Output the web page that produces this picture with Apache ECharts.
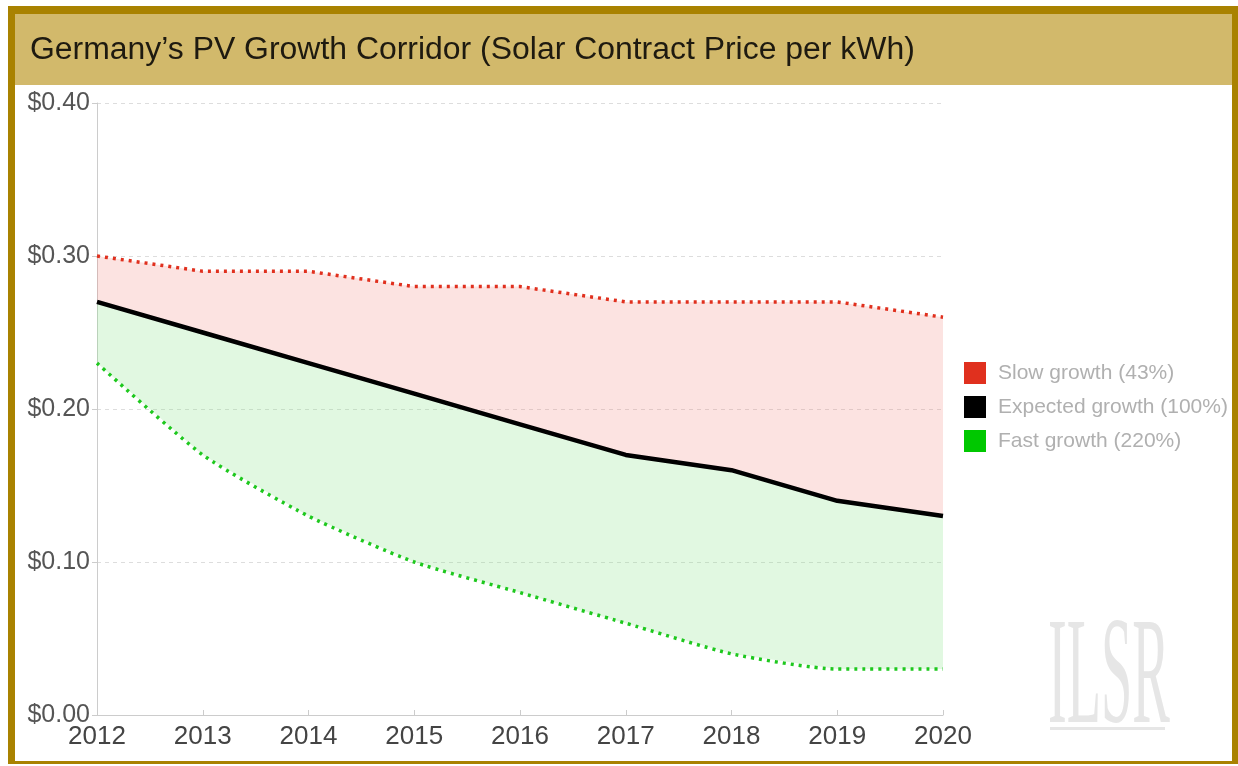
<!DOCTYPE html>
<html>
<head>
<meta charset="utf-8">
<script src="https://cdn.jsdelivr.net/npm/echarts@6/dist/echarts.min.js"></script>
<style>
  html, body { margin: 0; padding: 0; background: #fff; }
  #chart { width: 1238px; height: 766px; }
</style>
</head>
<body>
<div id="chart"></div>
<script>
// data
const years = ['2012', '2013', '2014', '2015', '2016', '2017', '2018', '2019', '2020']
const slowGrowth = [0.30, 0.29, 0.29, 0.28, 0.28, 0.27, 0.27, 0.27, 0.26]
const expectedGrowth = [0.27, 0.25, 0.23, 0.21, 0.19, 0.17, 0.16, 0.14, 0.13]
const fastGrowth = [0.23, 0.17, 0.13, 0.10, 0.08, 0.06, 0.04, 0.03, 0.03]
const yTicks = [0, 0.1, 0.2, 0.3, 0.4]

const gold = '#a98200'
const red = '#e0301e'
const green = '#1ec81e'

// bands between the lines (stacked on top of the fast curve)
const greenBand = expectedGrowth.map((v, i) => +(v - fastGrowth[i]).toFixed(4))
const redBand = slowGrowth.map((v, i) => +(v - expectedGrowth[i]).toFixed(4))

const chart = echarts.init(document.getElementById('chart'))

chart.setOption({
  animation: false,
  textStyle: { fontFamily: 'Liberation Sans, Arial, sans-serif' },
  graphic: [
    { type: 'rect', shape: { x: 15, y: 14, width: 1217, height: 71 }, style: { fill: '#d2b96b' }, z: 0 },
    { type: 'rect', shape: { x: 8, y: 6, width: 1230, height: 8 }, style: { fill: gold }, z: 1 },
    { type: 'rect', shape: { x: 8, y: 6, width: 7, height: 758 }, style: { fill: gold }, z: 1 },
    { type: 'rect', shape: { x: 1232, y: 6, width: 6, height: 758 }, style: { fill: gold }, z: 1 },
    { type: 'rect', shape: { x: 8, y: 761, width: 1230, height: 3 }, style: { fill: gold }, z: 1 },
    {
      type: 'text', x: 30, y: 35, scaleX: 1.03, z: 2,
      style: {
        text: 'Germany\u2019s PV Growth Corridor (Solar Contract Price per kWh)',
        fill: '#1e1a10', font: '31px "Liberation Sans", Arial, sans-serif'
      }
    },
    {
      type: 'text', x: 1048, y: 606, scaleX: 0.37, z: 0,
      style: {
        text: 'ILSR', fill: '#e6e6e6',
        font: '152px "Liberation Serif", "DejaVu Serif", serif'
      }
    },
    { type: 'rect', shape: { x: 1050, y: 727, width: 115, height: 3 }, style: { fill: '#e6e6e6' }, z: 0 }
  ],
  legend: {
    orient: 'vertical',
    left: 964,
    top: 362,
    padding: 0,
    icon: 'rect',
    itemWidth: 22,
    itemHeight: 22,
    itemGap: 12,
    data: ['Slow growth (43%)', 'Expected growth (100%)', 'Fast growth (220%)'],
    textStyle: { color: '#b0b0b0', fontSize: 21, padding: [0, 0, 0, 7] }
  },
  grid: { left: 97, right: 295, top: 103, bottom: 51 },
  xAxis: {
    type: 'category',
    data: years,
    boundaryGap: false,
    axisLine: { lineStyle: { color: '#cccccc' } },
    axisTick: { inside: true, length: 5, lineStyle: { color: '#cccccc' } },
    axisLabel: { color: '#444', fontSize: 26, margin: 9 }
  },
  yAxis: {
    type: 'value',
    min: yTicks[0],
    max: yTicks[yTicks.length - 1],
    interval: 0.1,
    axisLine: { show: true, lineStyle: { color: '#cccccc' } },
    axisTick: { show: true, length: 5, lineStyle: { color: '#cccccc' } },
    axisLabel: { color: '#555', fontSize: 25, margin: 7, formatter: v => '$' + v.toFixed(2) },
    splitLine: { lineStyle: { color: '#dddddd', type: [4, 4] } }
  },
  series: [
    {
      name: 'base', type: 'line', stack: 'band', data: fastGrowth,
      symbol: 'none', lineStyle: { opacity: 0 }, silent: true
    },
    {
      name: 'greenBand', type: 'line', stack: 'band', data: greenBand,
      symbol: 'none', lineStyle: { opacity: 0 }, silent: true,
      areaStyle: { color: 'rgba(130, 225, 130, 0.34)' }
    },
    {
      name: 'redBand', type: 'line', stack: 'band', data: redBand,
      symbol: 'none', lineStyle: { opacity: 0 }, silent: true,
      areaStyle: { color: 'rgba(240, 130, 120, 0.32)' }
    },
    {
      name: 'Slow growth (43%)', type: 'line', data: slowGrowth, symbol: 'none',
      itemStyle: { color: red },
      lineStyle: { color: red, width: 3.5, type: [3, 5] }, z: 5
    },
    {
      name: 'Expected growth (100%)', type: 'line', data: expectedGrowth, symbol: 'none',
      itemStyle: { color: '#000' },
      lineStyle: { color: '#000', width: 4.5 }, z: 6
    },
    {
      name: 'Fast growth (220%)', type: 'line', data: fastGrowth, symbol: 'none', smooth: 0.2,
      itemStyle: { color: '#00c800' },
      lineStyle: { color: green, width: 3.5, type: [3, 5] }, z: 5
    }
  ]
})
</script>
</body>
</html>
